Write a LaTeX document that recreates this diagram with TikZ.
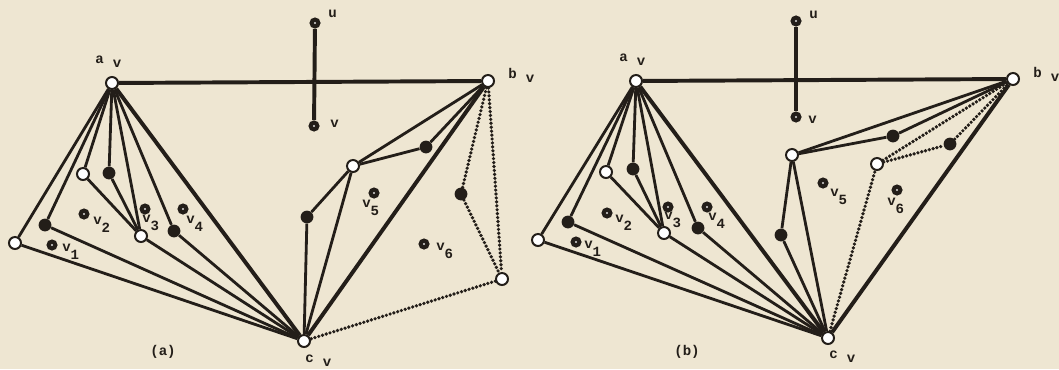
\documentclass[tikz,border=0pt]{standalone}
\usepackage{fontspec}
\setmonofont{Liberation Mono}
\definecolor{paper}{HTML}{EEE6D2}
\definecolor{ink}{HTML}{231E19}
\newcommand{\vtag}[1]{#1\hspace{6.5pt}\raisebox{-3.5pt}{v}}
\newcommand{\vsub}[1]{v\raisebox{-6.3pt}{#1}}

\begin{document}
\begin{tikzpicture}[
  x=0.025cm,
  y=-0.025cm,
  every node/.style={font=\ttfamily\bfseries\fontsize{10}{12}\selectfont, ink},
  lbl/.style={anchor=base west, inner sep=0pt},
  whitedot/.style={circle, draw=ink, fill=white, line width=1.4pt,
    inner sep=0pt, minimum size=0.3cm},
  blackdot/.style={circle, fill=ink, inner sep=0pt, minimum size=0.32cm},
  facedot/.style={circle, fill=ink, inner sep=0pt, minimum size=0.28cm,
    path picture={\fill[white!85!ink]
      (path picture bounding box.center) circle (0.8pt);}},
  link/.style={ink, line width=2.0pt},
  heavy/.style={ink, line width=2.8pt},
  dotline/.style={ink, line width=2.6pt, line cap=round,
    dash pattern=on 0pt off 2.8pt}
]
  \fill[paper] (0,0) rectangle (1059,369);
  \useasboundingbox (0,0) rectangle (1059,369);

  % ================= left panel (a) =====================================
  \begin{scope}[name prefix=A-]
    \node[whitedot] (av) at (112,83) {};
    \node[whitedot] (bv) at (488,81) {};
    \node[whitedot] (cv) at (304,341) {};
    \node[facedot] (u) at (315,23) {};
    \node[facedot] (v) at (314,126) {};

    \node[whitedot] (p1) at (15,243) {};
    \node[blackdot] (p2) at (45,225) {};
    \node[whitedot] (p3) at (83,174) {};
    \node[blackdot] (p4) at (109,173) {};
    \node[whitedot] (p5) at (141,236) {};
    \node[blackdot] (p6) at (174,231) {};

    \node[blackdot] (q1) at (307,217) {};
    \node[whitedot] (q2) at (353,166) {};
    \node[blackdot] (q3) at (426,147) {};
    \node[blackdot] (q4) at (461,194) {};
    \node[whitedot] (q5) at (502,279) {};

    \draw[heavy] (av) -- (bv);
    \draw[heavy] (u) -- (v);
    \draw[heavy] (av) -- (cv);
    \draw[heavy] (cv) -- (bv);

    \foreach \n in {p1,p2,p3,p4,p5,p6}
      \draw[link] (av) -- (\n);
    \foreach \n in {p1,p2,p5,p6}
      \draw[link] (cv) -- (\n);
    \draw[link] (p3) -- (p5);
    \draw[link] (p4) -- (p5);

    \draw[link] (cv) -- (q1);
    \draw[link] (q1) -- (q2);
    \draw[link] (q2) -- (cv);
    \draw[link] (q2) -- (bv);
    \draw[link] (q2) -- (q3);
    \draw[link] (q3) -- (bv);

    \draw[dotline] (bv) -- (q4);
    \draw[dotline] (q4) -- (q5);
    \draw[dotline] (bv) -- (q5);
    \draw[dotline] (q5) -- (cv);

    % faces and their names
    \node[facedot] (f1) at (52,245) {};
    \node[facedot] (f2) at (84,214) {};
    \node[facedot] (f3) at (145,209) {};
    \node[facedot] (f4) at (183,209) {};
    \node[facedot] (f5) at (374,193) {};
    \node[facedot] (f6) at (424,244) {};
    \node[lbl] (t1) at (62,251) {\vsub{1}};
    \node[lbl] (t2) at (93,224) {\vsub{2}};
    \node[lbl] (t3) at (142,222) {\vsub{3}};
    \node[lbl] (t4) at (186,223) {\vsub{4}};
    \node[lbl] (t5) at (362,207) {\vsub{5}};
    \node[lbl] (t6) at (436,250) {\vsub{6}};

    \node[lbl] (ta) at (95,63) {\vtag{a}};
    \node[lbl] (tb) at (508,78) {\vtag{b}};
    \node[lbl] (tc) at (305,362) {\vtag{c}};
    \node[lbl] (tu) at (328,17) {u};
    \node[lbl] (tv) at (330,127) {v};
    \node (cap) at (163,352) {(a)};
  \end{scope}

  % ================= right panel (b) ====================================
  \begin{scope}[name prefix=B-]
    \node[whitedot] (av) at (636,81) {};
    \node[whitedot] (bv) at (1013,79) {};
    \node[whitedot] (cv) at (828,338) {};
    \node[facedot] (u) at (796,21) {};
    \node[facedot] (v) at (796,117) {};

    \node[whitedot] (p1) at (538,240) {};
    \node[blackdot] (p2) at (568,222) {};
    \node[whitedot] (p3) at (606,172) {};
    \node[blackdot] (p4) at (633,169) {};
    \node[whitedot] (p5) at (664,233) {};
    \node[blackdot] (p6) at (698,228) {};

    \node[blackdot] (q1) at (781,235) {};
    \node[whitedot] (q2) at (792,155) {};
    \node[blackdot] (q3) at (893,136) {};
    \node[whitedot] (q4) at (877,164) {};
    \node[blackdot] (q5) at (950,144) {};

    \draw[heavy] (av) -- (bv);
    \draw[heavy] (u) -- (v);
    \draw[heavy] (av) -- (cv);
    \draw[heavy] (cv) -- (bv);

    \foreach \n in {p1,p2,p3,p4,p5,p6}
      \draw[link] (av) -- (\n);
    \foreach \n in {p1,p2,p5,p6}
      \draw[link] (cv) -- (\n);
    \draw[link] (p3) -- (p5);
    \draw[link] (p4) -- (p5);

    \draw[link] (cv) -- (q1);
    \draw[link] (q1) -- (q2);
    \draw[link] (q2) -- (cv);
    \draw[link] (q2) -- (bv);
    \draw[link] (q2) -- (q3);
    \draw[link] (q3) -- (bv);

    \draw[dotline] (cv) -- (q4);
    \draw[dotline] (q4) -- (bv);
    \draw[dotline] (q4) -- (q5);
    \draw[dotline] (q5) -- (bv);

    % faces and their names
    \node[facedot] (f1) at (576,242) {};
    \node[facedot] (f2) at (607,213) {};
    \node[facedot] (f3) at (668,207) {};
    \node[facedot] (f4) at (707,207) {};
    \node[facedot] (f5) at (823,183) {};
    \node[facedot] (f6) at (897,190) {};
    \node[lbl] (t1) at (584,248) {\vsub{1}};
    \node[lbl] (t2) at (615,222) {\vsub{2}};
    \node[lbl] (t3) at (664,219) {\vsub{3}};
    \node[lbl] (t4) at (708,220) {\vsub{4}};
    \node[lbl] (t5) at (830,196) {\vsub{5}};
    \node[lbl] (t6) at (887,205) {\vsub{6}};

    \node[lbl] (ta) at (619,61) {\vtag{a}};
    \node[lbl] (tb) at (1033,77) {\vtag{b}};
    \node[lbl] (tc) at (829,358) {\vtag{c}};
    \node[lbl] (tu) at (809,18) {u};
    \node[lbl] (tv) at (808,123) {v};
    \node (cap) at (687,352) {(b)};
  \end{scope}
\end{tikzpicture}
\end{document}
